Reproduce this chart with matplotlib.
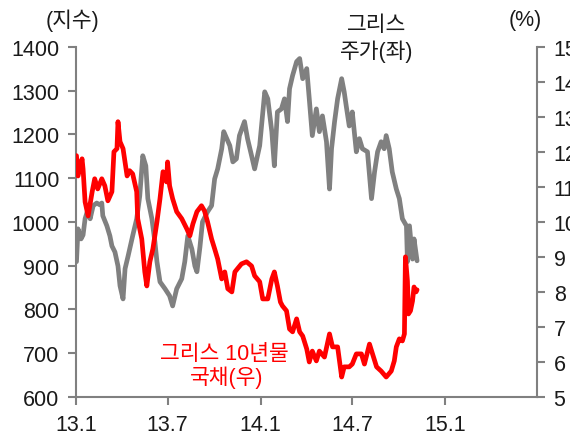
import matplotlib
matplotlib.use("Agg")
import matplotlib.pyplot as plt
import pandas as pd

plt.rcParams['font.family'] = ['Liberation Sans', 'Noto Sans CJK KR', 'DejaVu Sans']

# Greek stock index (left axis)
stock_dates = [
    "2013-01-02", "2013-01-05", "2013-01-11", "2013-01-15", "2013-01-19", "2013-01-25",
    "2013-01-29", "2013-02-04", "2013-02-11", "2013-02-17", "2013-02-21", "2013-02-23",
    "2013-03-03", "2013-03-09", "2013-03-13", "2013-03-19", "2013-03-25", "2013-03-29",
    "2013-04-04", "2013-04-08", "2013-04-14", "2013-04-23", "2013-05-01", "2013-05-07",
    "2013-05-13", "2013-05-19", "2013-05-23", "2013-05-31", "2013-06-06", "2013-06-10",
    "2013-06-16", "2013-06-26", "2013-07-05", "2013-07-11", "2013-07-19", "2013-07-29",
    "2013-08-04", "2013-08-10", "2013-08-18", "2013-08-24", "2013-08-28", "2013-09-03",
    "2013-09-08", "2013-09-18", "2013-09-26", "2013-10-02", "2013-10-08", "2013-10-16",
    "2013-10-20", "2013-10-26", "2013-11-01", "2013-11-07", "2013-11-14", "2013-11-20",
    "2013-11-30", "2013-12-06", "2013-12-14", "2013-12-20", "2013-12-30", "2014-01-09",
    "2014-01-15", "2014-01-23", "2014-01-28", "2014-02-03", "2014-02-11", "2014-02-17",
    "2014-02-23", "2014-02-27", "2014-03-05", "2014-03-13", "2014-03-19", "2014-03-25",
    "2014-04-02", "2014-04-07", "2014-04-13", "2014-04-21", "2014-04-27", "2014-05-03",
    "2014-05-11", "2014-05-17", "2014-05-21", "2014-05-27", "2014-06-02", "2014-06-10",
    "2014-06-15", "2014-06-19", "2014-06-25", "2014-07-01", "2014-07-09", "2014-07-15",
    "2014-07-21", "2014-07-31", "2014-08-08", "2014-08-14", "2014-08-20", "2014-08-27",
    "2014-09-02", "2014-09-06", "2014-09-12", "2014-09-18", "2014-09-26", "2014-10-02",
    "2014-10-08", "2014-10-16", "2014-10-18", "2014-10-22", "2014-10-28", "2014-10-31",
    "2014-11-06",
]
stock_values = [
    909, 984, 961, 970, 1007, 1030,
    1007, 1037, 1043, 1039, 1043, 1014,
    991, 968, 945, 931, 899, 854,
    824, 893, 922, 968, 1007, 1059,
    1151, 1128, 1053, 1007, 954, 909,
    863, 847, 831, 808, 847, 870,
    909, 968, 938, 899, 886, 943,
    1000, 1023, 1037, 1098, 1121, 1167,
    1206, 1190, 1174, 1137, 1144, 1197,
    1229, 1190, 1151, 1121, 1174, 1297,
    1281, 1206, 1128, 1251, 1258, 1281,
    1229, 1304, 1334, 1366, 1373, 1327,
    1350, 1281, 1197, 1258, 1206, 1242,
    1183, 1075, 1167, 1229, 1281, 1327,
    1297, 1265, 1219, 1251, 1160, 1190,
    1167, 1160, 1053, 1114, 1160, 1183,
    1167, 1197, 1167, 1114, 1075, 1053,
    1007, 991, 909, 991, 915, 961,
    911,
]

# Greek 10-year government bond yield, % (right axis)
bond_dates = [
    "2013-01-02", "2013-01-05", "2013-01-13", "2013-01-15", "2013-01-19", "2013-01-25",
    "2013-02-02", "2013-02-07", "2013-02-13", "2013-02-21", "2013-02-27", "2013-03-05",
    "2013-03-13", "2013-03-17", "2013-03-23", "2013-03-25", "2013-03-29", "2013-04-04",
    "2013-04-12", "2013-04-17", "2013-04-23", "2013-05-01", "2013-05-03", "2013-05-11",
    "2013-05-17", "2013-05-21", "2013-05-27", "2013-06-02", "2013-06-10", "2013-06-16",
    "2013-06-22", "2013-06-29", "2013-07-01", "2013-07-05", "2013-07-11", "2013-07-19",
    "2013-07-29", "2013-08-08", "2013-08-14", "2013-08-20", "2013-08-28", "2013-09-06",
    "2013-09-12", "2013-09-18", "2013-09-26", "2013-10-02", "2013-10-08", "2013-10-16",
    "2013-10-22", "2013-10-28", "2013-11-05", "2013-11-11", "2013-11-16", "2013-11-24",
    "2013-12-04", "2013-12-14", "2013-12-20", "2013-12-30", "2014-01-05", "2014-01-15",
    "2014-01-23", "2014-01-28", "2014-02-03", "2014-02-09", "2014-02-13", "2014-02-21",
    "2014-02-27", "2014-03-05", "2014-03-13", "2014-03-19", "2014-03-25", "2014-04-02",
    "2014-04-07", "2014-04-13", "2014-04-21", "2014-04-27", "2014-05-07", "2014-05-17",
    "2014-05-23", "2014-06-02", "2014-06-10", "2014-06-15", "2014-06-25", "2014-07-01",
    "2014-07-09", "2014-07-19", "2014-07-25", "2014-08-04", "2014-08-10", "2014-08-18",
    "2014-08-27", "2014-09-06", "2014-09-16", "2014-09-22", "2014-09-26", "2014-10-02",
    "2014-10-08", "2014-10-12", "2014-10-14", "2014-10-18", "2014-10-20", "2014-10-24",
    "2014-10-28", "2014-10-31", "2014-11-04", "2014-11-06",
]
bond_values = [
    11.89, 11.31, 11.80, 11.51, 10.57, 10.17,
    10.86, 11.23, 10.94, 11.23, 11.03, 10.60,
    10.86, 12.00, 12.09, 12.86, 12.29, 12.09,
    11.31, 11.46, 11.37, 10.86, 10.09, 9.51,
    8.57, 8.17, 8.86, 9.23, 10.00, 10.66,
    11.43, 11.14, 11.71, 11.03, 10.66, 10.29,
    10.09, 9.80, 9.60, 9.94, 10.29, 10.46,
    10.31, 10.00, 9.51, 9.23, 8.94, 8.37,
    8.57, 8.09, 8.00, 8.57, 8.66, 8.80,
    8.86, 8.74, 8.46, 8.29, 7.80, 7.80,
    8.37, 8.57, 8.17, 7.71, 7.60, 7.46,
    6.94, 6.86, 7.23, 6.86, 6.74, 6.37,
    6.00, 6.31, 6.03, 6.31, 6.14, 6.80,
    6.43, 6.43, 5.57, 5.86, 5.86, 5.94,
    6.23, 6.23, 5.94, 6.51, 6.23, 5.86,
    5.74, 5.57, 5.74, 6.03, 6.43, 6.66,
    6.60, 6.80, 9.00, 8.31, 7.37, 7.46,
    7.74, 8.14, 8.00, 8.06,
]

tick_dates = ["2013-01-01", "2013-07-01", "2014-01-01", "2014-07-01", "2015-01-01"]
tick_labels = ["13.1", "13.7", "14.1", "14.7", "15.1"]

GRAY = "#808080"
RED = "#ff0000"
TEXT = "#1a1a1a"
FS = 15.5

fig = plt.figure(figsize=(5.7, 4.35), dpi=100)
ax = fig.add_axes([0.1333, 0.0851, 0.8088, 0.8052])
ax2 = ax.twinx()

ax.plot(pd.to_datetime(stock_dates), stock_values, color=GRAY, lw=3.4,
        solid_joinstyle="round", solid_capstyle="round")
ax2.plot(pd.to_datetime(bond_dates), bond_values, color=RED, lw=3.4,
         solid_joinstyle="round", solid_capstyle="round")

ax.set_xlim(pd.Timestamp("2013-01-01"), pd.Timestamp("2015-07-01"))
ax.set_ylim(600, 1400)
ax.set_yticks(range(600, 1401, 100))
ax2.set_ylim(5, 15)
ax2.set_yticks(range(5, 16))

ax.set_xticks(pd.to_datetime(tick_dates))
ax.set_xticklabels(tick_labels)

for a in (ax, ax2):
    a.spines["top"].set_visible(False)
    for s in ("left", "right", "bottom"):
        a.spines[s].set_color(GRAY)
        a.spines[s].set_linewidth(1.5)
    a.tick_params(colors=GRAY, labelcolor=TEXT, labelsize=FS, length=6, width=1.5, pad=6)
    a.set_facecolor("none")
ax.spines["right"].set_visible(False)
ax2.spines["left"].set_visible(False)
ax2.spines["bottom"].set_visible(False)

fig.text(0.127, 0.953, "(지수)", ha="center", va="center", fontsize=FS, color=TEXT)
fig.text(0.921, 0.953, "(%)", ha="center", va="center", fontsize=FS, color=TEXT)
fig.text(0.661, 0.942, "그리스", ha="center", va="center", fontsize=FS, color=TEXT)
fig.text(0.661, 0.882, "주가(좌)", ha="center", va="center", fontsize=FS, color=TEXT)
fig.text(0.394, 0.184, "그리스 10년물", ha="center", va="center", fontsize=FS, color=RED)
fig.text(0.398, 0.131, "국채(우)", ha="center", va="center", fontsize=FS, color=RED)

fig.savefig("out.png", dpi=100)
